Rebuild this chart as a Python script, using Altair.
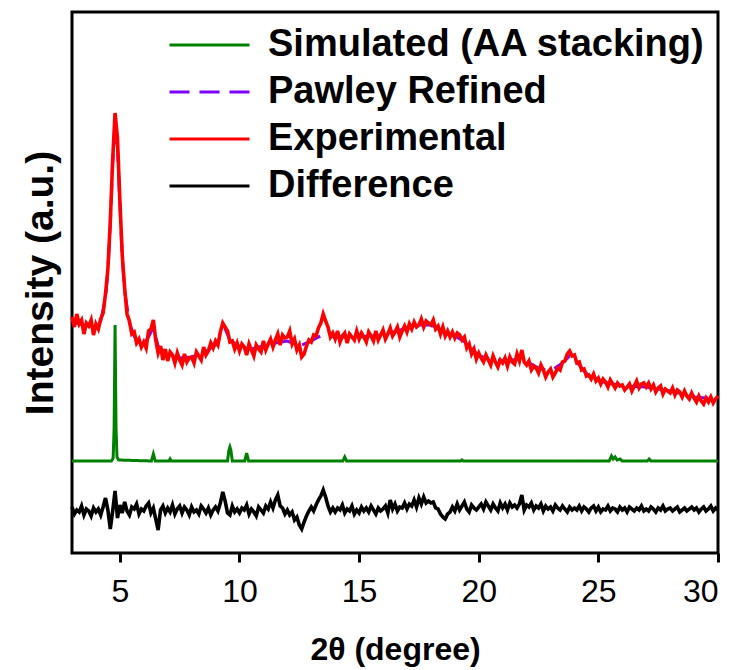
import altair as alt
import pandas as pd

# ---- data (intensity in arbitrary units) ----
two_theta = [round(3 + 0.1 * i, 1) for i in range(271)]  # 3.0 .. 30.0

experimental = [
    236, 226, 239, 229, 233, 219, 230, 227, 233, 218,
    229, 224, 234, 240, 259, 284, 331, 393, 440, 415,
    353, 298, 265, 239, 232, 219, 221, 210, 214, 206,
    211, 205, 222, 224, 233, 213, 200, 207, 193, 204,
    192, 201, 198, 190, 200, 193, 188, 199, 191, 195,
    196, 190, 201, 197, 193, 206, 198, 202, 210, 205,
    212, 208, 221, 230, 226, 222, 211, 212, 204, 210,
    202, 209, 206, 198, 209, 203, 197, 208, 204, 201,
    212, 203, 209, 214, 206, 213, 219, 208, 218, 215,
    216, 222, 209, 214, 203, 208, 196, 199, 207, 213,
    211, 218, 217, 225, 230, 239, 232, 226, 216, 220,
    214, 222, 211, 217, 220, 210, 219, 216, 213, 222,
    214, 220, 216, 211, 221, 217, 212, 222, 213, 218,
    223, 214, 219, 225, 217, 221, 226, 216, 222, 227,
    221, 229, 224, 231, 226, 228, 234, 226, 232, 230,
    228, 233, 224, 227, 219, 226, 217, 222, 216, 221,
    215, 220, 218, 213, 216, 205, 209, 199, 204, 194,
    200, 195, 191, 198, 193, 188, 197, 191, 186, 193,
    190, 195, 187, 196, 191, 189, 199, 192, 203, 191,
    188, 192, 183, 187, 185, 180, 188, 183, 176, 181,
    184, 176, 180, 185, 183, 191, 192, 199, 202, 197,
    198, 190, 191, 183, 184, 177, 178, 174, 179, 172,
    175, 169, 174, 171, 166, 173, 169, 165, 170, 167,
    168, 163, 166, 169, 162, 167, 172, 165, 169, 170,
    166, 170, 164, 168, 161, 165, 167, 159, 164, 162,
    160, 165, 158, 163, 161, 156, 162, 157, 154, 160,
    155, 151, 157, 152, 149, 155, 151, 156, 150, 154,
    157,
]

difference = [
    46, 39, 43, 41, 47, 38, 44, 42, 37, 45,
    41, 44, 38, 46, 55, 43, 24, 42, 62, 35,
    48, 40, 51, 42, 38, 46, 44, 49, 39, 44,
    42, 47, 50, 40, 45, 34, 23, 43, 47, 40,
    45, 41, 48, 39, 44, 47, 40, 46, 43, 38,
    46, 41, 43, 39, 47, 44, 40, 45, 38, 43,
    46, 42, 50, 61, 52, 40, 38, 47, 41, 44,
    40, 45, 43, 48, 39, 44, 41, 37, 46, 43,
    40, 47, 44, 51, 45, 53, 58, 47, 45, 39,
    43, 38, 41, 33, 36, 28, 24, 31, 37, 42,
    46, 42, 48, 53, 57, 63, 56, 47, 41, 45,
    41, 45, 43, 48, 40, 44, 42, 47, 39, 43,
    40, 46, 42, 45, 41, 47, 43, 39, 45, 42,
    44, 47, 40, 53, 44, 49, 42, 46, 45, 50,
    44, 49, 47, 53, 46, 55, 49, 56, 50, 52,
    50, 51, 45, 44, 39, 36, 34, 39, 41, 46,
    42, 49, 43, 47, 51, 44, 41, 48, 45, 43,
    46, 49, 44, 51, 47, 43, 49, 45, 42, 50,
    45, 49, 43, 50, 46, 48, 45, 49, 58, 43,
    48, 46, 50, 43, 47, 45, 49, 42, 47, 44,
    46, 42, 48, 45, 43, 47, 44, 41, 46, 43,
    45, 43, 47, 42, 46, 44, 41, 45, 47, 42,
    46, 41, 44, 43, 47, 42, 45, 44, 41, 46,
    43, 45, 41, 46, 44, 42, 45, 43, 47, 42,
    44, 42, 46, 44, 41, 45, 43, 47, 42, 44,
    45, 42, 44, 46, 41, 43, 45, 42, 44, 46,
    43, 45, 41, 44, 46, 42, 44, 47, 42, 45,
    43,
]

pawley_x = [3.0, 3.5, 4.0, 4.2, 4.4, 4.5, 4.6, 4.7, 4.8, 4.9, 5.0, 5.1, 5.2, 5.4,
            5.6, 5.8, 6.0, 6.2, 6.4, 6.6, 7.0, 7.5, 8.0, 8.5, 9.0, 9.2, 9.4, 9.6,
            10.0, 10.5, 11.0, 11.5, 12.0, 12.5, 13.0, 13.3, 13.5, 13.8, 14.0, 15.0,
            16.0, 17.0, 17.5, 18.0, 18.5, 19.0, 19.5, 20.0, 21.0, 21.8, 22.5, 23.0,
            23.5, 23.8, 24.2, 24.6, 25.0, 26.0, 27.0, 28.0, 29.0, 30.0]
pawley_y = [231, 228, 226, 232, 255, 282, 328, 390, 425, 405, 350, 296, 262, 230,
            217, 210, 209, 216, 226, 207, 198, 195, 196, 200, 208, 216, 224, 213,
            206, 204, 207, 210, 212, 207, 212, 216, 218, 217, 216, 216,
            218, 225, 228, 228, 222, 217, 210, 197, 192, 194, 185, 182,
            190, 197, 188, 177, 172, 167, 166, 162, 156, 154]

sim_x = [3.0, 4.65, 4.72, 4.76, 4.8, 4.84, 4.88, 4.95, 6.32, 6.4, 6.48, 7.05, 7.1,
         7.15, 9.5, 9.56, 9.6, 9.64, 9.7, 10.22, 10.3, 10.38, 14.32, 14.4, 14.48,
         19.25, 19.3, 19.35, 25.45, 25.55, 25.62, 25.7, 25.78, 25.9, 26.0, 27.05,
         27.12, 27.2, 30.0]
sim_y = [92, 92, 95, 125, 228, 125, 96, 93, 92, 99, 92, 92, 94,
         92, 92, 103, 106, 103, 92, 92, 100, 92, 92, 96, 92,
         92, 93, 92, 92, 97, 94, 96, 93, 94, 92, 92,
         94, 92, 92]

names = ["Simulated (AA stacking)", "Pawley Refined", "Experimental", "Difference"]
colors = ["#008000", "#7f00ff", "#ff0000", "#000000"]
dashes = [[1, 0], [20, 10], [1, 0], [1, 0]]
widths = {names[0]: 3, names[1]: 3, names[2]: 3.6, names[3]: 3.6}
tick_values = [5, 10, 15, 20, 25, 30]

rows = []
for x, v in zip(sim_x, sim_y):
    rows.append((names[0], x, v))
for x, v in zip(pawley_x, pawley_y):
    rows.append((names[1], x, v))
for x, v in zip(two_theta, experimental):
    rows.append((names[2], x, v))
for x, v in zip(two_theta, difference):
    rows.append((names[3], x, v))
df = pd.DataFrame(rows, columns=["series", "two_theta", "intensity"])

FONT = "Liberation Sans"

legend_cfg = dict(
    orient="none", legendX=96, legendY=14, title=None,
    symbolType="stroke", symbolSize=6400, symbolStrokeWidth=3,
    labelFont=FONT, labelFontSize=38, labelFontWeight="bold", labelColor="black",
    labelOffset=17, labelLimit=700, clipHeight=38, rowPadding=9, padding=0,
)

base = alt.Chart(df).encode(
    x=alt.X("two_theta:Q",
            scale=alt.Scale(domain=[3, 30], nice=False, zero=False),
            axis=alt.Axis(values=tick_values, title="2θ (degree)", domain=False,
                          tickColor="black", tickWidth=3, tickSize=9,
                          labelFont=FONT, labelFontSize=32, labelColor="black",
                          labelPadding=14, titleFont=FONT, titleFontSize=32,
                          titleFontWeight="bold", titleColor="black", titlePadding=27)),
    y=alt.Y("intensity:Q",
            scale=alt.Scale(domain=[0, 541], nice=False),
            axis=alt.Axis(title="Intensity (a.u.)", labels=False, ticks=False,
                          domain=False, titleFont=FONT, titleFontSize=39,
                          titleFontWeight="bold", titleColor="black", titlePadding=12)),
    color=alt.Color("series:N", scale=alt.Scale(domain=names, range=colors),
                    legend=alt.Legend(**legend_cfg)),
    strokeDash=alt.StrokeDash("series:N", scale=alt.Scale(domain=names, range=dashes),
                              legend=alt.Legend(**legend_cfg)),
)

draw_order = [names[1], names[2], names[0], names[3]]
layers = [
    base.transform_filter(alt.datum.series == n).mark_line(strokeWidth=widths[n])
    for n in draw_order
]

chart = alt.layer(*layers).properties(
    width=646, height=541,
    autosize=alt.AutoSizeParams(type="none"),
    padding={"left": 72, "top": 12, "right": 25, "bottom": 117},
).configure_view(stroke="black", strokeWidth=3).configure_axis(grid=False)

chart.save("out.html", embed_options={"renderer": "svg", "actions": False})
